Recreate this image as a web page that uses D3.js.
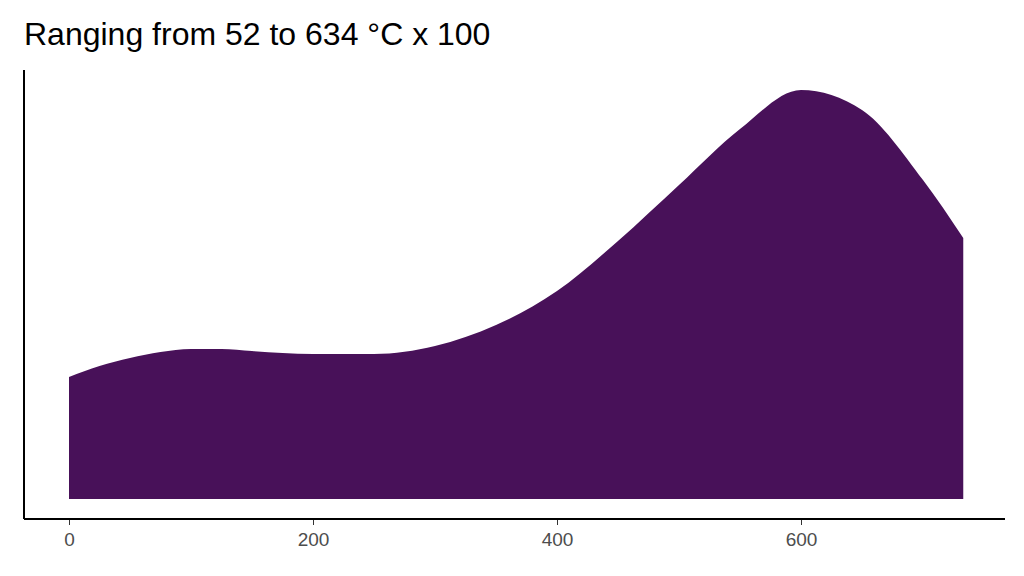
<!DOCTYPE html>
<html><head><meta charset="utf-8">
<script src="https://cdn.jsdelivr.net/npm/d3@7"></script>
<style>body{margin:0;background:#fff}</style></head>
<body><svg id="c" width="1024" height="576"></svg>
<script>
const xs = [0,25,50,75,100,125,150,175,200,250,300,350,400,450,500,550,600,650,700,733];
const dens = [122,133,141,147,150,150,148,146,145,145,153,174,208,258,314,370,409,389,319,261];
const xTicks = [0,200,400,600];
const title = "Ranging from 52 to 634 °C x 100";

const svg = d3.select("#c");
const x = d3.scaleLinear().domain([0,600]).range([69,801]);
const y = d3.scaleLinear().domain([0,410]).range([499,89]);
const pts = xs.map((v,i)=>[v,dens[i]]);
const area = d3.area().x(d=>x(d[0])).y0(y(0)).y1(d=>y(d[1])).curve(d3.curveMonotoneX);
svg.append("path").attr("d",area(pts)).attr("fill","#481159");

const ax = svg.append("g").attr("transform","translate(0,519)")
  .call(d3.axisBottom(x).tickValues(xTicks).tickSize(6).tickPadding(8).tickFormat(d3.format("d")));
ax.select(".domain").remove();
ax.selectAll("line").attr("stroke","#333");
ax.selectAll("text").attr("fill","#4d4d4d").style("font-family","Liberation Sans, Arial, sans-serif").style("font-size","19px");
svg.append("line").attr("x1",24).attr("x2",1005).attr("y1",519).attr("y2",519).attr("stroke","#000").attr("stroke-width",2);
svg.append("line").attr("x1",24).attr("x2",24).attr("y1",70).attr("y2",519).attr("stroke","#000").attr("stroke-width",2);
svg.append("text").attr("x",24).attr("y",45).text(title)
  .style("font-family","Liberation Sans, Arial, sans-serif").style("font-size","32px").attr("fill","#000");
</script></body></html>
